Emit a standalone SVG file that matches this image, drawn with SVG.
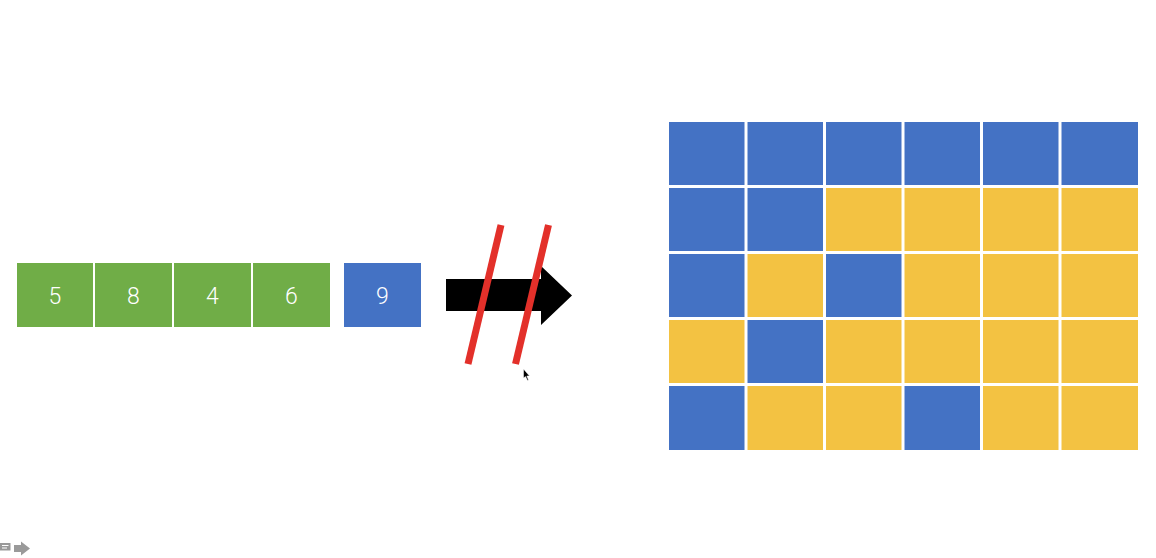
<svg xmlns="http://www.w3.org/2000/svg" width="1156" height="558" viewBox="0 0 1156 558">
<style>
.g{fill:#70ad47}
.b{fill:#4472c4}
.y{fill:#f3c242}
.cell{stroke:#ffffff;stroke-width:2}
.lbl{font-family:Roboto,"Liberation Sans",sans-serif;font-size:23px;fill:#ffffff;text-anchor:middle;font-weight:300}
.red{stroke:#e3302a;stroke-width:7;stroke-linecap:butt}
</style>
<rect width="1156" height="558" fill="#ffffff"/>
<g id="seq">
<g id="n5"><rect class="g" x="17" y="263" width="76" height="64"/><text class="lbl" x="55" y="304">5</text></g>
<g id="n8"><rect class="g" x="95" y="263" width="77" height="64"/><text class="lbl" x="133.5" y="304">8</text></g>
<g id="n4"><rect class="g" x="174" y="263" width="77" height="64"/><text class="lbl" x="212.5" y="304">4</text></g>
<g id="n6"><rect class="g" x="253" y="263" width="77" height="64"/><text class="lbl" x="291.5" y="304">6</text></g>
<g id="n9"><rect class="b" x="344" y="263" width="77" height="64"/><text class="lbl" x="382.5" y="304">9</text></g>
</g>
<g id="connectors">
<polygon points="446,279 541,279 541,266 572,295.5 541,325 541,311 446,311" fill="#000000"/>
<line class="red" x1="501" y1="225" x2="468" y2="364"/>
<line class="red" x1="548.5" y1="225" x2="515.5" y2="364"/>
</g>
<g id="grid">
<rect class="b cell" x="668" y="121" width="77.5" height="65"/>
<rect class="b cell" x="746.5" y="121" width="77.5" height="65"/>
<rect class="b cell" x="825" y="121" width="77.5" height="65"/>
<rect class="b cell" x="903.5" y="121" width="77.5" height="65"/>
<rect class="b cell" x="982" y="121" width="77.5" height="65"/>
<rect class="b cell" x="1060.5" y="121" width="78.5" height="65"/>

<rect class="b cell" x="668" y="187" width="77.5" height="65"/>
<rect class="b cell" x="746.5" y="187" width="77.5" height="65"/>
<rect class="y cell" x="825" y="187" width="77.5" height="65"/>
<rect class="y cell" x="903.5" y="187" width="77.5" height="65"/>
<rect class="y cell" x="982" y="187" width="77.5" height="65"/>
<rect class="y cell" x="1060.5" y="187" width="78.5" height="65"/>

<rect class="b cell" x="668" y="253" width="77.5" height="65"/>
<rect class="y cell" x="746.5" y="253" width="77.5" height="65"/>
<rect class="b cell" x="825" y="253" width="77.5" height="65"/>
<rect class="y cell" x="903.5" y="253" width="77.5" height="65"/>
<rect class="y cell" x="982" y="253" width="77.5" height="65"/>
<rect class="y cell" x="1060.5" y="253" width="78.5" height="65"/>

<rect class="y cell" x="668" y="319" width="77.5" height="65"/>
<rect class="b cell" x="746.5" y="319" width="77.5" height="65"/>
<rect class="y cell" x="825" y="319" width="77.5" height="65"/>
<rect class="y cell" x="903.5" y="319" width="77.5" height="65"/>
<rect class="y cell" x="982" y="319" width="77.5" height="65"/>
<rect class="y cell" x="1060.5" y="319" width="78.5" height="65"/>

<rect class="b cell" x="668" y="385" width="77.5" height="66"/>
<rect class="y cell" x="746.5" y="385" width="77.5" height="66"/>
<rect class="y cell" x="825" y="385" width="77.5" height="66"/>
<rect class="b cell" x="903.5" y="385" width="77.5" height="66"/>
<rect class="y cell" x="982" y="385" width="77.5" height="66"/>
<rect class="y cell" x="1060.5" y="385" width="78.5" height="66"/>
</g>
<g id="cursor">
<polygon points="523.5,369 523.5,378 525.5,376.5 527.5,380.5 528.5,380 526.8,376 529.5,376" fill="#000000" stroke="#ffffff" stroke-width="0.5"/>
</g>
<g id="footer-icons">
<rect x="0" y="543" width="10.5" height="7.5" fill="#9a9a9a"/>
<line x1="2" y1="545.5" x2="8.5" y2="545.5" stroke="#ffffff" stroke-width="1"/>
<line x1="2" y1="548" x2="7" y2="548" stroke="#ffffff" stroke-width="1"/>
<polygon points="14,545 21,545 21,541.5 30,548.5 21,555.5 21,552 14,552" fill="#9a9a9a"/>
</g>
</svg>
